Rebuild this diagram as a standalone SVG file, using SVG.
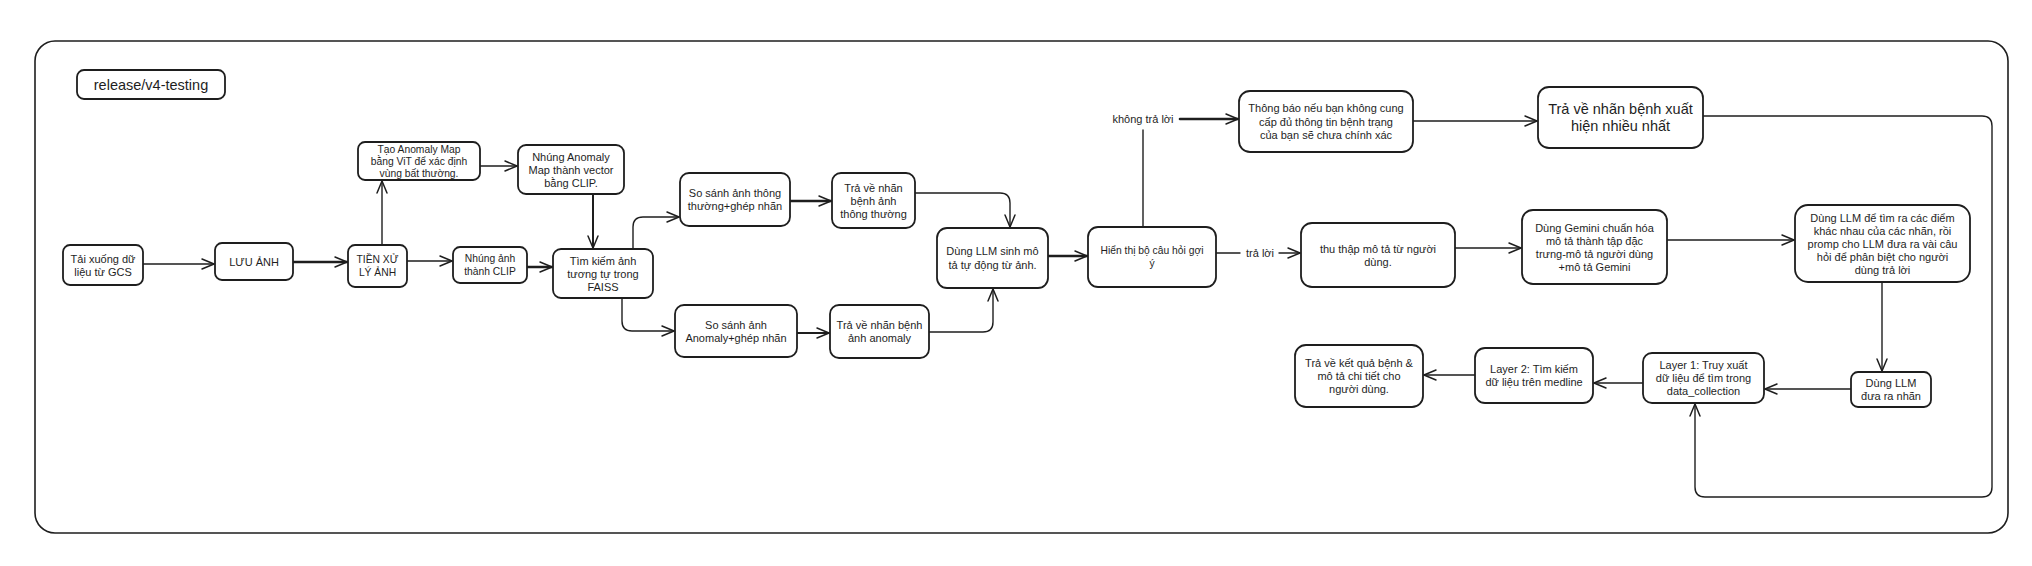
<svg xmlns="http://www.w3.org/2000/svg" width="2032" height="566" viewBox="0 0 2032 566">
<style>
.box{fill:#ffffff;stroke:#1e1e1e;stroke-width:1.8}
.frame{fill:none;stroke:#1e1e1e;stroke-width:1.6}
.t{font-family:"Liberation Sans","Noto Sans",sans-serif;font-size:11px;fill:#1e1e1e;text-anchor:middle;dominant-baseline:central}
.s{font-size:10.3px}
.tb{font-size:14.5px}
.c{fill:none;stroke:#1e1e1e;stroke-width:1.4;stroke-linecap:round;stroke-linejoin:round}
.k{stroke-width:2.6}
.a{marker-end:url(#ah)}
</style>
<defs>
<marker id="ah" viewBox="0 0 14 12" refX="13" refY="6" markerWidth="14" markerHeight="12" markerUnits="userSpaceOnUse" orient="auto">
<path d="M1,1 L13,6 L1,11" fill="none" stroke="#1e1e1e" stroke-width="1.5" stroke-linecap="round" stroke-linejoin="round"/>
</marker>
</defs>
<rect width="2032" height="566" fill="#ffffff"/>
<rect class="frame" x="35" y="41" width="1973" height="492" rx="20"/>

<g id="connectors">
<path class="c a" d="M143,264 L214,264"/>
<path class="c k a" d="M293,262 L347,262"/>
<path class="c a" d="M382,245 L382,181"/>
<path class="c a" d="M480,166 L517,166"/>
<path class="c a" d="M407,261 L452,261"/>
<path class="c k a" d="M527,267 L552,267"/>
<path class="c a" style="stroke-width:2" d="M593,194 L593,248"/>
<path class="c a" d="M633,248 L633,227 Q633,217 643,217 L679,217"/>
<path class="c a" d="M622,298 L622,321 Q622,331 632,331 L674,331"/>
<path class="c k a" d="M790,201 L831,201"/>
<path class="c a" style="stroke-width:2" d="M797,333 L829,333"/>
<path class="c a" d="M915,193 L1000,193 Q1010,193 1010,203 L1010,227"/>
<path class="c a" d="M929,332 L983,332 Q993,332 993,322 L993,289"/>
<path class="c k a" d="M1048,256 L1087,256"/>
<path class="c" d="M1143,227 L1143,130"/>
<path class="c k a" d="M1180,119 L1238,119"/>
<path class="c a" d="M1413,121 L1537,121"/>
<path class="c" d="M1216,253 L1240,253"/>
<path class="c a" d="M1279,253 L1300,253"/>
<path class="c a" d="M1455,248 L1521,248"/>
<path class="c a" d="M1667,240 L1794,240"/>
<path class="c a" d="M1882,282 L1882,371"/>
<path class="c a" d="M1851,389 L1765,389"/>
<path class="c a" d="M1643,383 L1594,383"/>
<path class="c a" d="M1475,375 L1424,375"/>
<path class="c a" d="M1703,116 L1982,116 Q1992,116 1992,126 L1992,487 Q1992,497 1982,497 L1705,497 Q1695,497 1695,487 L1695,404"/>
<text class="t" x="1143" y="119">không trả lời</text>
<text class="t" x="1260" y="253">trả lời</text>
</g>

<g id="release"><rect class="box" x="77" y="70" width="148" height="29" rx="7"/><text class="t tb" x="151" y="85">release/v4-testing</text></g>

<g id="n_gcs"><rect class="box" x="63" y="245" width="80" height="40" rx="7"/><text class="t" x="103" y="258.5">Tải xuống dữ</text><text class="t" x="103" y="271.5">liệu từ GCS</text></g>

<g id="n_luu"><rect class="box" x="215" y="243" width="78" height="37" rx="7"/><text class="t" x="254" y="261.5">LƯU ẢNH</text></g>

<g id="n_tien"><rect class="box" x="348" y="245" width="59" height="42" rx="7"/><text class="t s" x="377.5" y="259.5">TIỀN XỬ</text><text class="t s" x="377.5" y="272.5">LÝ ẢNH</text></g>

<g id="n_tao"><rect class="box" x="358" y="142" width="122" height="38" rx="7"/><text class="t s" x="419" y="149">Tạo Anomaly Map</text><text class="t s" x="419" y="161">bằng ViT để xác định</text><text class="t s" x="419" y="173">vùng bất thường.</text></g>

<g id="n_nhung_clip"><rect class="box" x="453" y="247" width="74" height="36" rx="7"/><text class="t s" x="490" y="258.5">Nhúng ảnh</text><text class="t s" x="490" y="271.5">thành CLIP</text></g>

<g id="n_nhung_anom"><rect class="box" x="518" y="145" width="106" height="49" rx="8"/><text class="t" x="571" y="156.5">Nhúng Anomaly</text><text class="t" x="571" y="169.5">Map thành vector</text><text class="t" x="571" y="182.5">bằng CLIP.</text></g>

<g id="n_faiss"><rect class="box" x="553" y="249" width="100" height="49" rx="8"/><text class="t" x="603" y="260.5">Tìm kiếm ảnh</text><text class="t" x="603" y="273.5">tương tự trong</text><text class="t" x="603" y="286.5">FAISS</text></g>

<g id="n_ss_tt"><rect class="box" x="680" y="173" width="110" height="53" rx="9"/><text class="t" x="735" y="193">So sánh ảnh thông</text><text class="t" x="735" y="206">thường+ghép nhãn</text></g>

<g id="n_tv_tt"><rect class="box" x="832" y="173" width="83" height="55" rx="9"/><text class="t" x="873.5" y="187.5">Trả về nhãn</text><text class="t" x="873.5" y="200.5">bệnh ảnh</text><text class="t" x="873.5" y="213.5">thông thường</text></g>

<g id="n_ss_an"><rect class="box" x="675" y="305" width="122" height="52" rx="9"/><text class="t" x="736" y="324.5">So sánh ảnh</text><text class="t" x="736" y="337.5">Anomaly+ghép nhãn</text></g>

<g id="n_tv_an"><rect class="box" x="830" y="305" width="99" height="53" rx="9"/><text class="t" x="879.5" y="325">Trả về nhãn bệnh</text><text class="t" x="879.5" y="338">ảnh anomaly</text></g>

<g id="n_llm"><rect class="box" x="937" y="228" width="111" height="60" rx="10"/><text class="t" x="992.5" y="251">Dùng LLM sinh mô</text><text class="t" x="992.5" y="265">tả tự động từ ảnh.</text></g>

<g id="n_hienthi"><rect class="box" x="1088" y="227" width="128" height="60" rx="10"/><text class="t s" x="1152" y="250.5">Hiển thị bộ câu hỏi gợi</text><text class="t s" x="1152" y="263.5">ý</text></g>

<g id="n_thongbao"><rect class="box" x="1239" y="91" width="174" height="61" rx="11"/><text class="t" x="1326" y="108">Thông báo nếu bạn không cung</text><text class="t" x="1326" y="121.5">cấp đủ thông tin bệnh trạng</text><text class="t" x="1326" y="135">của bạn sẽ chưa chính xác</text></g>

<g id="n_tv_nhieu"><rect class="box" x="1538" y="87" width="165" height="61" rx="11"/><text class="t tb" x="1620.5" y="109">Trả về nhãn bệnh xuất</text><text class="t tb" x="1620.5" y="126">hiện nhiều nhất</text></g>

<g id="n_thuthap"><rect class="box" x="1301" y="223" width="154" height="64" rx="11"/><text class="t" x="1378" y="248.5">thu thập mô tả từ người</text><text class="t" x="1378" y="261.5">dùng.</text></g>

<g id="n_gemini"><rect class="box" x="1522" y="210" width="145" height="74" rx="11"/><text class="t" x="1594.5" y="227.5">Dùng Gemini chuẩn hóa</text><text class="t" x="1594.5" y="240.5">mô tả thành tập đặc</text><text class="t" x="1594.5" y="253.5">trưng-mô tả người dùng</text><text class="t" x="1594.5" y="266.5">+mô tả Gemini</text></g>

<g id="n_llm_tim"><rect class="box" x="1795" y="205" width="175" height="77" rx="13"/><text class="t" x="1882.5" y="217.5">Dùng LLM để tìm ra các điểm</text><text class="t" x="1882.5" y="230.5">khác nhau của các nhãn, rồi</text><text class="t" x="1882.5" y="243.5">promp cho LLM đưa ra vài câu</text><text class="t" x="1882.5" y="256.5">hỏi để phân biệt cho người</text><text class="t" x="1882.5" y="269.5">dùng trả lời</text></g>

<g id="n_llm_nhan"><rect class="box" x="1851" y="372" width="80" height="35" rx="7"/><text class="t" x="1891" y="383">Dùng LLM</text><text class="t" x="1891" y="396">đưa ra nhãn</text></g>

<g id="n_layer1"><rect class="box" x="1643" y="353" width="121" height="50" rx="9"/><text class="t" x="1703.5" y="365">Layer 1: Truy xuất</text><text class="t" x="1703.5" y="378">dữ liệu để tìm trong</text><text class="t" x="1703.5" y="391">data_collection</text></g>

<g id="n_layer2"><rect class="box" x="1475" y="348" width="118" height="55" rx="10"/><text class="t" x="1534" y="369">Layer 2: Tìm kiếm</text><text class="t" x="1534" y="382">dữ liệu trên medline</text></g>

<g id="n_ketqua"><rect class="box" x="1295" y="345" width="128" height="62" rx="11"/><text class="t" x="1359" y="363">Trả về kết quả bệnh &amp;</text><text class="t" x="1359" y="376">mô tả chi tiết cho</text><text class="t" x="1359" y="389">người dùng.</text></g>
</svg>
